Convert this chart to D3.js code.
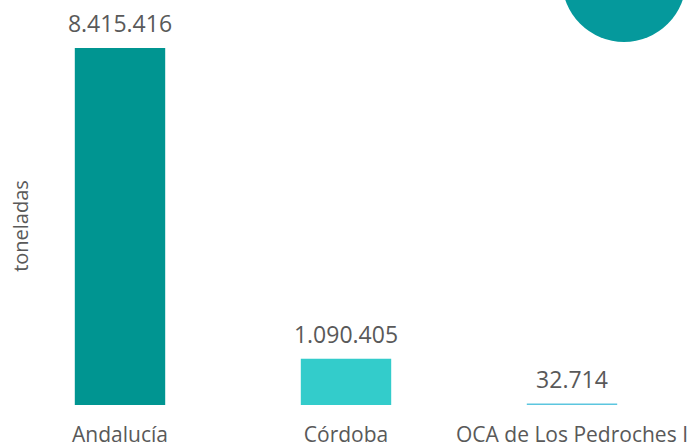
<!DOCTYPE html>
<html>
<head>
<meta charset="utf-8">
<script src="https://cdn.jsdelivr.net/npm/d3@7"></script>
<style>
  html, body { margin: 0; padding: 0; background: #ffffff; }
  svg { display: block; }
</style>
</head>
<body>
<svg id="chart" width="693" height="445"></svg>
<script>
// Production by territory (toneladas)
const categories = ["Andalucía", "Córdoba", "OCA de Los Pedroches I"];
const values = [8415416, 1090405, 32714];
const valueLabels = ["8.415.416", "1.090.405", "32.714"];
const barColors = ["#009591", "#33CCCB", "#5CC6DF"];
const axisTitle = "toneladas";

const svg = d3.select("#chart");
const baseY = 405;

const x = d3.scaleBand()
  .domain(categories)
  .range([7, 685])
  .paddingInner(0.6)
  .paddingOuter(0.3);

const y = d3.scaleLinear()
  .domain([0, d3.max(values)])
  .range([baseY, 48]);

const font = "'Open Sans', sans-serif";
const textColor = "#595959";

// decorative disc in the top-right corner
svg.append("circle")
  .attr("cx", 624)
  .attr("cy", -20)
  .attr("r", 62)
  .attr("fill", "#05999C");

// bars (a minimum visible height keeps tiny values readable)
const barTop = v => Math.min(y(v), baseY - 1.5);
svg.selectAll("rect.bar")
  .data(categories)
  .join("rect")
  .attr("class", "bar")
  .attr("x", d => x(d))
  .attr("width", x.bandwidth())
  .attr("y", (d, i) => barTop(values[i]))
  .attr("height", (d, i) => baseY - barTop(values[i]))
  .attr("fill", (d, i) => barColors[i]);

// value labels above bars
svg.selectAll("text.value")
  .data(categories)
  .join("text")
  .attr("class", "value")
  .attr("x", d => x(d) + x.bandwidth() / 2)
  .attr("y", (d, i) => barTop(values[i]) - 16)
  .attr("text-anchor", "middle")
  .attr("font-family", font)
  .attr("font-size", 23)
  .attr("fill", textColor)
  .text((d, i) => valueLabels[i]);

// category axis labels
const xAxis = d3.axisBottom(x).tickSize(0).tickPadding(0);
const gx = svg.append("g")
  .attr("transform", `translate(0, ${baseY})`)
  .call(xAxis);
gx.select(".domain").remove();
gx.selectAll("text")
  .attr("y", 37)
  .attr("dy", 0)
  .attr("font-family", font)
  .attr("font-size", 21)
  .attr("fill", textColor);

// y-axis title
svg.append("text")
  .attr("transform", "translate(28, 226) rotate(-90)")
  .attr("text-anchor", "middle")
  .attr("font-family", font)
  .attr("font-size", 20)
  .attr("fill", textColor)
  .text(axisTitle);
</script>
</body>
</html>
